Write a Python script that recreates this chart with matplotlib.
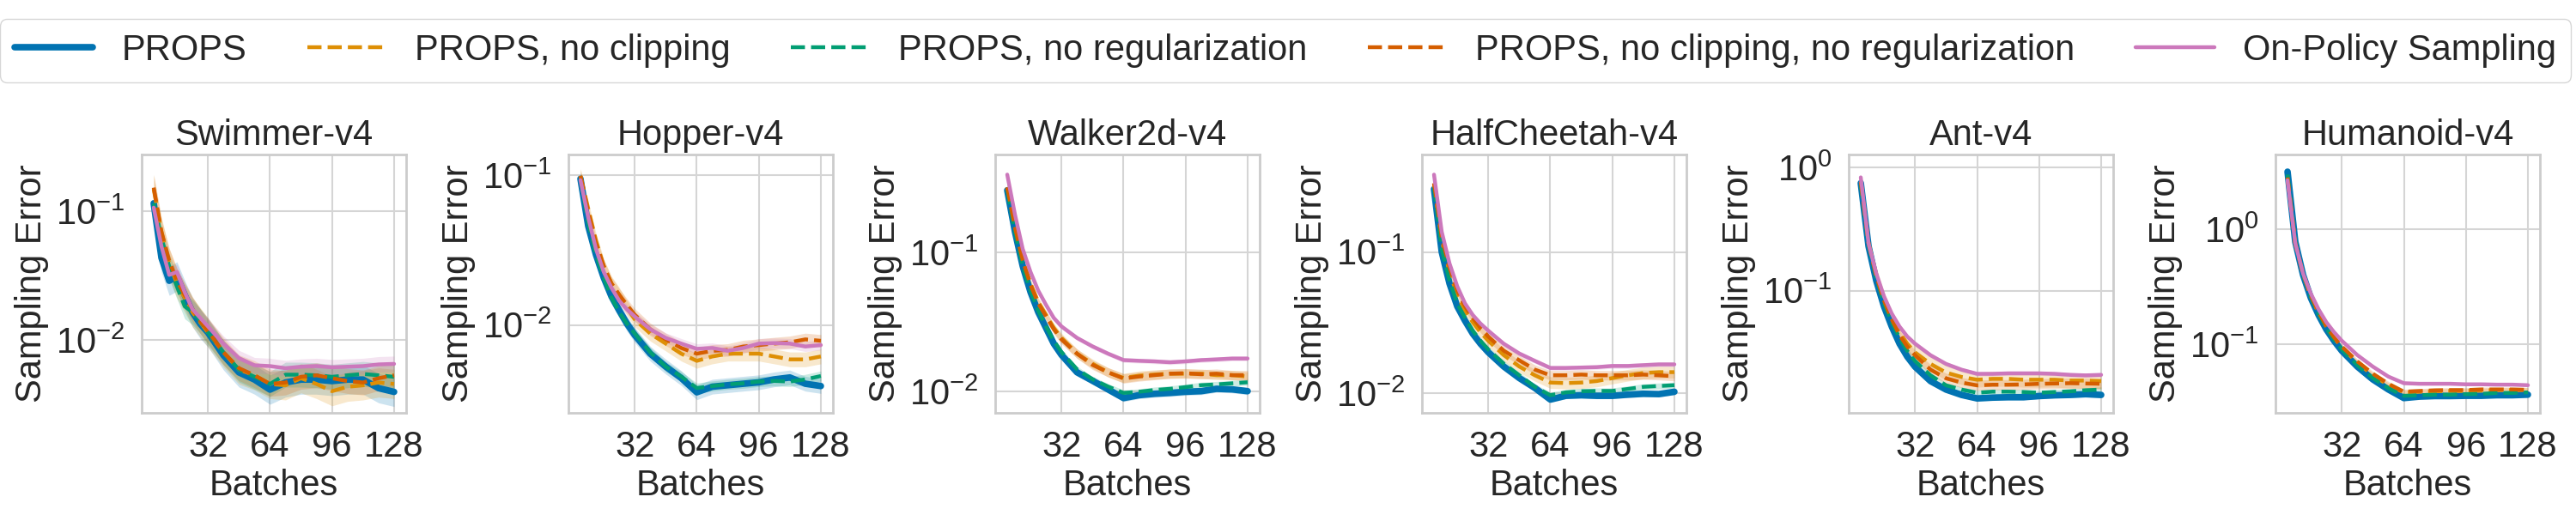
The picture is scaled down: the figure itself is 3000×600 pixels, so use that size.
import matplotlib
matplotlib.use("Agg")
import matplotlib.pyplot as plt
import numpy as np
import seaborn as sns
from matplotlib.ticker import FixedLocator, NullFormatter

sns.set_theme(style="whitegrid", palette="colorblind")
plt.rcParams["font.family"] = ["Liberation Sans", "DejaVu Sans"]
plt.rcParams["mathtext.fontset"] = "custom"
plt.rcParams["mathtext.rm"] = "Liberation Sans"
plt.rcParams["mathtext.it"] = "Liberation Sans:italic"
plt.rcParams["font.size"] = 30

# Batches at which the sampling error is reported
batches = [4, 8, 12, 16, 20, 24, 28, 32, 40, 48, 56, 64, 72, 80, 88, 96, 104, 112, 120, 128]

envs = ["Swimmer-v4", "Hopper-v4", "Walker2d-v4", "HalfCheetah-v4", "Ant-v4", "Humanoid-v4"]
methods = ["PROPS", "PROPS, no clipping", "PROPS, no regularization",
           "PROPS, no clipping, no regularization", "On-Policy Sampling"]

# Swimmer-v4
swimmer_props = [0.1155, 0.0435, 0.0288, 0.0311, 0.0223, 0.0164, 0.0133, 0.0114, 0.00757, 0.00557,
                 0.0049, 0.00409, 0.00465, 0.0049, 0.0049, 0.00477, 0.0049, 0.0049, 0.0042, 0.00393]
swimmer_noclip = [0.149, 0.0691, 0.0393, 0.0274, 0.0212, 0.0164, 0.0137, 0.0114, 0.00798, 0.00586,
                  0.00529, 0.00453, 0.00442, 0.00502, 0.00453, 0.00398, 0.00431, 0.00442, 0.00465, 0.00453]
swimmer_noreg = [0.1155, 0.0624, 0.0373, 0.026, 0.0182, 0.0164, 0.014, 0.0114, 0.00798, 0.00586,
                 0.00515, 0.00453, 0.00535, 0.00535, 0.00529, 0.00515, 0.00529, 0.00542, 0.00529, 0.00515]
swimmer_both = [0.153, 0.0691, 0.0413, 0.0288, 0.0223, 0.0173, 0.014, 0.0117, 0.00798, 0.00601,
                0.00529, 0.00453, 0.00465, 0.00515, 0.00529, 0.00502, 0.00477, 0.00465, 0.00502, 0.00529]
swimmer_onpolicy = [0.1069, 0.0534, 0.032, 0.0337, 0.0235, 0.0173, 0.0148, 0.0127, 0.00931, 0.00719,
                    0.00633, 0.00624, 0.00601, 0.00617, 0.00624, 0.00611, 0.00617, 0.00624, 0.00643, 0.00649]

# Hopper-v4
hopper_props = [0.0944, 0.0457, 0.0294, 0.0207, 0.0155, 0.0125, 0.0102, 0.00857, 0.00644, 0.00528,
                0.00443, 0.00356, 0.00388, 0.00397, 0.00406, 0.00415, 0.00434, 0.00447, 0.00406, 0.00392]
hopper_noclip = [0.0987, 0.0595, 0.0366, 0.0247, 0.0189, 0.0159, 0.013, 0.0109, 0.00877, 0.00752,
                 0.00644, 0.00577, 0.00617, 0.00644, 0.00644, 0.00644, 0.00617, 0.0059, 0.0059, 0.00617]
hopper_noreg = [0.0944, 0.0478, 0.0294, 0.0207, 0.0152, 0.0122, 0.0102, 0.00877, 0.00658, 0.00528,
                0.00453, 0.0038, 0.00392, 0.00402, 0.00409, 0.0042, 0.00424, 0.0042, 0.00434, 0.00457]
hopper_both = [0.0987, 0.0569, 0.0351, 0.0247, 0.0189, 0.0159, 0.0136, 0.0117, 0.00936, 0.00802,
               0.00703, 0.00644, 0.00673, 0.00682, 0.00719, 0.00735, 0.00752, 0.00767, 0.00802, 0.00785]
hopper_onpolicy = [0.0924, 0.0521, 0.0321, 0.0226, 0.0177, 0.0145, 0.0127, 0.0114, 0.00936, 0.0082,
                   0.00752, 0.00694, 0.00703, 0.00673, 0.00703, 0.00752, 0.00758, 0.00752, 0.00719, 0.00735]

# Walker2d-v4
walker_props = [0.2815, 0.1414, 0.08, 0.0522, 0.0374, 0.0288, 0.0222, 0.0184, 0.0138, 0.012,
                0.0104, 0.00901, 0.00945, 0.00967, 0.00981, 0.01, 0.0101, 0.0105, 0.0104, 0.0101]
walker_noclip = [0.295, 0.1555, 0.0901, 0.0602, 0.0442, 0.0357, 0.0288, 0.0244, 0.0188, 0.0159,
                 0.0138, 0.01256, 0.01305, 0.0133, 0.01349, 0.01349, 0.01349, 0.01317, 0.01317, 0.01286]
walker_noreg = [0.2815, 0.1414, 0.08, 0.0534, 0.0383, 0.0295, 0.0233, 0.0193, 0.0145, 0.0123,
                0.0109, 0.00981, 0.01, 0.0103, 0.0105, 0.0108, 0.01115, 0.0113, 0.0115, 0.0117]
walker_both = [0.295, 0.1518, 0.088, 0.0587, 0.0432, 0.0349, 0.0282, 0.0238, 0.0188, 0.0156,
               0.0138, 0.01245, 0.01286, 0.01317, 0.01349, 0.0136, 0.01336, 0.01349, 0.01317, 0.01317]
walker_onpolicy = [0.365, 0.188, 0.1064, 0.0728, 0.0534, 0.0422, 0.034, 0.0295, 0.0244, 0.0212,
                   0.0188, 0.0169, 0.0167, 0.01654, 0.0163, 0.01654, 0.0169, 0.0171, 0.01734, 0.01734]

# HalfCheetah-v4
cheetah_props = [0.279, 0.1, 0.0598, 0.0412, 0.0326, 0.0264, 0.0224, 0.0195, 0.01545, 0.0128,
                 0.0109, 0.00902, 0.00959, 0.00968, 0.00959, 0.00959, 0.00977, 0.00991, 0.00986, 0.01024]
cheetah_noclip = [0.3, 0.1205, 0.0721, 0.0496, 0.0384, 0.0318, 0.027, 0.0235, 0.0186, 0.01545,
                  0.0134, 0.0119, 0.0118, 0.0119, 0.0122, 0.0128, 0.0134, 0.0139, 0.0141, 0.0141]
cheetah_noreg = [0.286, 0.1048, 0.0627, 0.0432, 0.0342, 0.0277, 0.0235, 0.0204, 0.0162, 0.0134,
                 0.0111, 0.00968, 0.01014, 0.01033, 0.01038, 0.01038, 0.01072, 0.0111, 0.01125, 0.0114]
cheetah_both = [0.307, 0.1263, 0.0773, 0.0532, 0.0412, 0.0342, 0.029, 0.0252, 0.02, 0.0171,
                0.0147, 0.0134, 0.0134, 0.01355, 0.0134, 0.0134, 0.0134, 0.01355, 0.0134, 0.0132]
cheetah_onpolicy = [0.353, 0.1387, 0.083, 0.0571, 0.0432, 0.0358, 0.0311, 0.0277, 0.0224, 0.0191,
                    0.01695, 0.0151, 0.0151, 0.0152, 0.0153, 0.0156, 0.0156, 0.0158, 0.016, 0.016]

# Ant-v4
ant_props = [0.745, 0.2293, 0.1206, 0.0745, 0.0512, 0.0372, 0.0292, 0.0242, 0.0185, 0.0158,
             0.0143, 0.0134, 0.0136, 0.0137, 0.0137, 0.014, 0.0142, 0.0143, 0.0145, 0.0143]
ant_noclip = [0.765, 0.2419, 0.1343, 0.0851, 0.0601, 0.046, 0.0372, 0.0316, 0.0255, 0.0217,
              0.02, 0.019, 0.0193, 0.0193, 0.019, 0.019, 0.019, 0.0187, 0.0187, 0.0185]
ant_noreg = [0.725, 0.2355, 0.1273, 0.0786, 0.0555, 0.0413, 0.0325, 0.0269, 0.0206, 0.0171,
             0.0158, 0.0149, 0.0152, 0.0152, 0.0151, 0.0149, 0.0151, 0.0153, 0.0156, 0.0158]
ant_both = [0.765, 0.2419, 0.1307, 0.0829, 0.0585, 0.0436, 0.0352, 0.03, 0.0229, 0.0195,
            0.018, 0.0171, 0.0173, 0.0173, 0.0174, 0.0176, 0.0177, 0.0178, 0.0177, 0.0176]
ant_onpolicy = [0.829, 0.2419, 0.1378, 0.0898, 0.0652, 0.0512, 0.0425, 0.0372, 0.03, 0.0255,
                0.0229, 0.0212, 0.0212, 0.0214, 0.0214, 0.0214, 0.0212, 0.0208, 0.0206, 0.0208]

# Humanoid-v4
humanoid_props = [3.2, 0.781, 0.403, 0.254, 0.18, 0.1349, 0.1072, 0.0876, 0.0638, 0.0493,
                  0.0403, 0.0339, 0.0349, 0.0353, 0.0353, 0.0355, 0.0355, 0.0359, 0.0359, 0.0363]
humanoid_noclip = [2.85, 0.759, 0.407, 0.2615, 0.1884, 0.1429, 0.1135, 0.0939, 0.0688, 0.0537,
                   0.0439, 0.038, 0.0385, 0.0389, 0.0391, 0.0391, 0.0394, 0.0398, 0.0398, 0.0398]
humanoid_noreg = [3.02, 0.781, 0.407, 0.2585, 0.1841, 0.1388, 0.1096, 0.0902, 0.0657, 0.0507,
                  0.0414, 0.0355, 0.0359, 0.0363, 0.0363, 0.0367, 0.0369, 0.0376, 0.0376, 0.038]
humanoid_both = [2.85, 0.759, 0.412, 0.266, 0.1905, 0.1445, 0.1148, 0.0955, 0.0708, 0.0553,
                 0.0452, 0.0385, 0.0391, 0.0396, 0.0398, 0.0398, 0.0403, 0.0403, 0.0403, 0.04]
humanoid_onpolicy = [2.69, 0.759, 0.414, 0.277, 0.2018, 0.1557, 0.1274, 0.1072, 0.0804, 0.0638,
                     0.0522, 0.0457, 0.0452, 0.0452, 0.0452, 0.0447, 0.0447, 0.0444, 0.0444, 0.0439]

# multiplicative half-width of the shaded band, per method
swimmer_spread = [1.3, 1.3, 1.25, 1.25, 1.15]
hopper_spread = [1.12, 1.12, 1.08, 1.1, 1.08]
walker_spread = [1.06, 1.08, 1.05, 1.08, 1.04]
cheetah_spread = [1.05, 1.1, 1.05, 1.08, 1.04]
ant_spread = [1.05, 1.15, 1.05, 1.1, 1.04]
humanoid_spread = [1.04, 1.05, 1.04, 1.05, 1.03]

all_curves = [
    [swimmer_props, swimmer_noclip, swimmer_noreg, swimmer_both, swimmer_onpolicy],
    [hopper_props, hopper_noclip, hopper_noreg, hopper_both, hopper_onpolicy],
    [walker_props, walker_noclip, walker_noreg, walker_both, walker_onpolicy],
    [cheetah_props, cheetah_noclip, cheetah_noreg, cheetah_both, cheetah_onpolicy],
    [ant_props, ant_noclip, ant_noreg, ant_both, ant_onpolicy],
    [humanoid_props, humanoid_noclip, humanoid_noreg, humanoid_both, humanoid_onpolicy],
]
all_spreads = [swimmer_spread, hopper_spread, walker_spread, cheetah_spread, ant_spread, humanoid_spread]
y_limits = [(0.00269, 0.277), (0.00259, 0.137), (0.00703, 0.509),
            (0.00724, 0.49), (0.0102, 1.27), (0.0251, 4.52)]

colors = ["#0173B2", "#DE8F05", "#029E73", "#D55E00", "#CC78BC"]
styles = ["-", "--", "--", "--", "-"]
widths = [5.5, 3.2, 3.2, 3.2, 3.2]

fig, axes = plt.subplots(1, 6, figsize=(30, 6), dpi=100)
fig.subplots_adjust(left=0.055, right=0.986, bottom=0.198, top=0.7, wspace=0.614)

x = np.array(batches)
for ax, env, curves, spreads, ylim in zip(axes, envs, all_curves, all_spreads, y_limits):
    for k, vals in enumerate(curves):
        y = np.array(vals)
        ax.fill_between(x, y / spreads[k], y * spreads[k], color=colors[k], alpha=0.2, lw=0)
        ax.plot(x, y, color=colors[k], ls=styles[k], lw=widths[k], label=methods[k])
    ax.set_yscale("log")
    ax.set_ylim(*ylim)
    ax.yaxis.set_minor_formatter(NullFormatter())
    ax.xaxis.set_major_locator(FixedLocator([32, 64, 96, 128]))
    ax.set_title(env, fontsize=30, pad=8)
    ax.set_xlabel("Batches", fontsize=30, labelpad=4)
    ax.set_ylabel("Sampling Error", fontsize=30, labelpad=6)
    ax.tick_params(axis="both", labelsize=30, pad=8)
    for s in ax.spines.values():
        s.set_color("#cccccc")
        s.set_linewidth(2)
    ax.grid(True, which="major", color="#d5d5d5", lw=1.5)

handles, labels = axes[0].get_legend_handles_labels()
fig.legend(handles, labels, loc="upper left", bbox_to_anchor=(0.0, 0.963, 0.998, 0.0),
           mode="expand", ncol=5, fontsize=30, frameon=True, edgecolor="#cccccc",
           handlelength=2.2, borderaxespad=0)

fig.savefig("out.png", dpi=100)
